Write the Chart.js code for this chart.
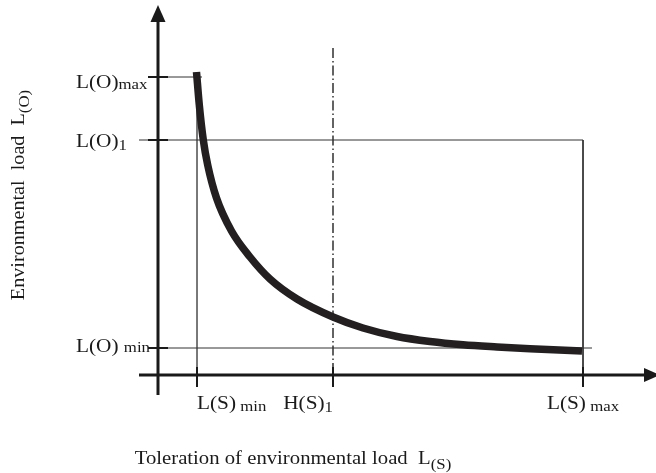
<!DOCTYPE html>
<html>
<head>
<meta charset="utf-8">
<script src="https://cdn.jsdelivr.net/npm/chart.js@4"></script>
<style>
  html, body { margin: 0; padding: 0; background: #fff; }
  canvas { display: block; }
</style>
</head>
<body>
<canvas id="chart" width="656" height="473"></canvas>
<script>
// marked values on the axes (schematic units, origin where the axes cross)
const xTickValues = [39, 175, 425];
const xTickNames = ['L(S)', 'H(S)', 'L(S)'];
const xTickSubs = [' min', '1', ' max'];
const yTickValues = [298, 235, 27];
const yTickNames = ['L(O)', 'L(O)', 'L(O) '];
const yTickSubs = ['max', '1', 'min'];

// the curve
const curveX = [38.5, 41.3, 45.3, 49.7, 58.5, 73.5, 92, 112, 139, 175, 205, 239, 272, 305, 339, 372, 424];
const curveY = [303, 270, 235, 210, 177, 144, 118, 96, 76, 58, 47, 38.5, 33.5, 30.2, 28, 26.2, 24];

const xTitle = ['Toleration of environmental load  L', '(S)'];
const yTitle = ['Environmental  load  L', '(O)'];

const [lsMin, hs1, lsMax] = xTickValues;
const [loMax, lo1, loMin] = yTickValues;

const SERIF = '"Liberation Serif", "Times New Roman", serif';
const SX = 1.12; // the lettering in the figure is a bit wide

function seg(x1, y1, x2, y2) {
  return [{ x: x1, y: y1 }, { x: x2, y: y2 }];
}

function guide(data, color, dash) {
  return {
    data: data,
    borderColor: color,
    borderWidth: 1,
    borderDash: dash || [],
    pointRadius: 0,
    fill: false,
    order: 2
  };
}

// text with a smaller, lowered second part
function richText(ctx, x, y, main, sub, size, subSize, drop, align) {
  ctx.save();
  ctx.font = size + 'px ' + SERIF;
  const w1 = ctx.measureText(main).width;
  ctx.font = subSize + 'px ' + SERIF;
  const w2 = ctx.measureText(sub).width;
  const w = (w1 + w2) * SX;
  let x0 = x;
  if (align === 'center') x0 = x - w / 2;
  if (align === 'right') x0 = x - w;
  ctx.translate(x0, y);
  ctx.scale(SX, 1);
  ctx.fillStyle = '#1a1a1a';
  ctx.textBaseline = 'alphabetic';
  ctx.textAlign = 'left';
  ctx.font = size + 'px ' + SERIF;
  ctx.fillText(main, 0, 0);
  ctx.font = subSize + 'px ' + SERIF;
  ctx.fillText(sub, w1, drop);
  ctx.restore();
}

const axesPlugin = {
  id: 'axesPlugin',
  afterDatasetsDraw(chart) {
    const ctx = chart.ctx;
    const xs = chart.scales.x, ys = chart.scales.y;
    const px = v => xs.getPixelForValue(v);
    const py = v => ys.getPixelForValue(v);
    const x0 = px(0), y0 = py(0);

    ctx.save();
    ctx.strokeStyle = '#1a1a1a';
    ctx.fillStyle = '#1a1a1a';
    ctx.lineWidth = 3;
    ctx.lineCap = 'butt';
    // y axis + arrow
    ctx.beginPath();
    ctx.moveTo(x0, py(-20));
    ctx.lineTo(x0, py(356));
    ctx.stroke();
    ctx.beginPath();
    ctx.moveTo(x0, py(370));
    ctx.lineTo(x0 - 7.5, py(353));
    ctx.lineTo(x0 + 7.5, py(353));
    ctx.closePath();
    ctx.fill();
    // x axis + arrow
    ctx.beginPath();
    ctx.moveTo(px(-19), y0);
    ctx.lineTo(px(488), y0);
    ctx.stroke();
    ctx.beginPath();
    ctx.moveTo(px(502), y0);
    ctx.lineTo(px(486), y0 - 7);
    ctx.lineTo(px(486), y0 + 7);
    ctx.closePath();
    ctx.fill();

    // short tick marks
    ctx.lineWidth = 2;
    yTickValues.forEach(v => {
      ctx.beginPath();
      ctx.moveTo(px(-10), py(v));
      ctx.lineTo(px(10), py(v));
      ctx.stroke();
    });
    xTickValues.forEach(v => {
      ctx.beginPath();
      ctx.moveTo(px(v), py(8));
      ctx.lineTo(px(v), py(-12));
      ctx.stroke();
    });
    ctx.restore();

    // tick labels
    const yDrop = [10.5, 6.5, 3.5];
    const ySubDrop = [1, 3, 0];
    yTickValues.forEach((v, i) => {
      richText(ctx, 76, py(v) + yDrop[i], yTickNames[i], yTickSubs[i], 19, 15, ySubDrop[i], 'left');
    });
    const xAlign = ['left', 'right', 'center'];
    const xSubDrop = [2, 3, 2];
    xTickValues.forEach((v, i) => {
      richText(ctx, px(v), y0 + 34, xTickNames[i], xTickSubs[i], 19, 15, xSubDrop[i], xAlign[i]);
    });

    // axis titles
    richText(ctx, 293, 464, xTitle[0], xTitle[1], 18.5, 15, 5, 'center');
    ctx.save();
    ctx.translate(24, 195);
    ctx.rotate(-Math.PI / 2);
    richText(ctx, 0, 0, yTitle[0], yTitle[1], 18, 15, 5, 'center');
    ctx.restore();
  }
};

new Chart(document.getElementById('chart').getContext('2d'), {
  type: 'line',
  data: {
    datasets: [
      {
        data: curveX.map((x, i) => ({ x: x, y: curveY[i] })),
        borderColor: '#231f20',
        borderWidth: 7.5,
        borderCapStyle: 'butt',
        borderJoinStyle: 'round',
        cubicInterpolationMode: 'monotone',
        pointRadius: 0,
        fill: false,
        order: 0
      },
      guide(seg(0, loMax, lsMin + 5, loMax), '#333'),
      guide(seg(-19, lo1, lsMax, lo1), '#333'),
      guide(seg(-10, loMin, lsMax + 9, loMin), '#333'),
      guide(seg(lsMin, loMax, lsMin, -12), '#666'),
      guide(seg(lsMax, lo1, lsMax, -12), '#333'),
      Object.assign(guide(seg(hs1, 327, hs1, -12), '#222', [10, 3, 1.5, 3]), { borderWidth: 1.4 })
    ]
  },
  options: {
    responsive: false,
    animation: false,
    events: [],
    layout: { padding: 0 },
    plugins: { legend: { display: false }, tooltip: { enabled: false } },
    scales: {
      x: { type: 'linear', min: -158, max: 498, display: false },
      y: { type: 'linear', min: -98, max: 375, display: false }
    }
  },
  plugins: [axesPlugin]
});
</script>
</body>
</html>
